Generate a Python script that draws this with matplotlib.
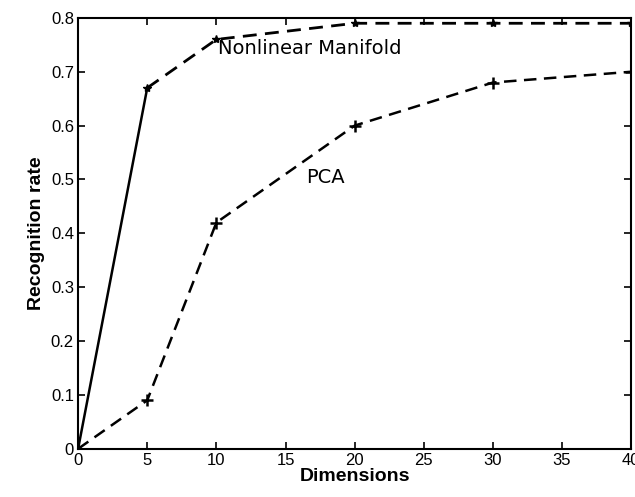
import matplotlib
matplotlib.use('Agg')
import matplotlib.pyplot as plt

dims = [0, 5, 10, 20, 30, 40]
nonlinear = [0, 0.67, 0.76, 0.79, 0.79, 0.79]
pca = [0, 0.09, 0.42, 0.60, 0.68, 0.70]

plt.rcParams['font.family'] = ['Liberation Sans', 'DejaVu Sans']

fig = plt.figure(figsize=(6.35, 4.97), dpi=100)
ax = fig.add_axes([0.123, 0.097, 0.871, 0.867])

# first segment of the manifold curve looks solid in the original
ax.plot(dims[:2], nonlinear[:2], color='k', linewidth=1.8, linestyle='-')
ax.plot(dims[1:], nonlinear[1:], color='k', linewidth=2, linestyle=(0, (5, 3)),
        marker='*', markersize=6)
ax.plot(dims, pca, color='k', linewidth=1.8, linestyle=(0, (5, 3)),
        marker='+', markersize=9, markeredgewidth=1.8)
ax.plot([0], [0], marker='D', color='k', markersize=4)

ax.text(10.1, 0.744, 'Nonlinear Manifold', fontsize=14, family='DejaVu Sans',
        va='center', ha='left')
ax.text(16.5, 0.503, 'PCA', fontsize=14, family='DejaVu Sans',
        va='center', ha='left')

ax.set_xlim(0, 40)
ax.set_ylim(0, 0.8)
ax.set_xticks([0, 5, 10, 15, 20, 25, 30, 35, 40])
ax.set_yticks([0, 0.1, 0.2, 0.3, 0.4, 0.5, 0.6, 0.7, 0.8])
ax.set_yticklabels(['0', '0.1', '0.2', '0.3', '0.4', '0.5', '0.6', '0.7', '0.8'])
ax.tick_params(direction='in', top=True, right=True, labelsize=12, length=5, width=1.2, pad=3)
for s in ax.spines.values():
    s.set_linewidth(1.5)

ax.set_xlabel('Dimensions', fontsize=14, fontweight='bold', labelpad=0)
ax.set_ylabel('Recognition rate', fontsize=14, fontweight='bold', labelpad=4)

fig.savefig('out.png', dpi=100)
